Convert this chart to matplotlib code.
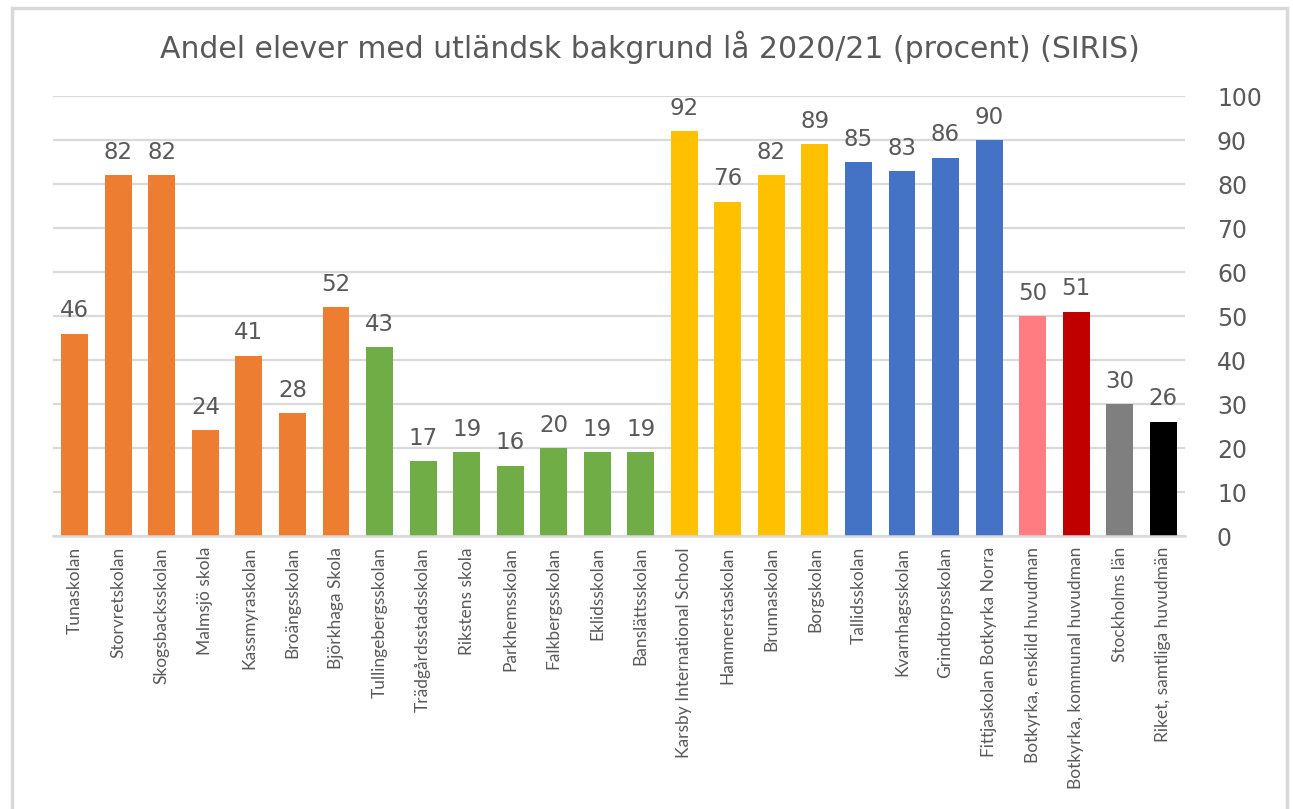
import matplotlib
matplotlib.use("Agg")
import matplotlib.pyplot as plt
from matplotlib.patches import Rectangle

categories = ["Tunaskolan", "Storvretskolan", "Skogsbacksskolan", "Malmsjö skola",
              "Kassmyraskolan", "Broängsskolan", "Björkhaga Skola", "Tullingebergsskolan",
              "Trädgårdsstadsskolan", "Rikstens skola", "Parkhemsskolan", "Falkbergsskolan",
              "Eklidsskolan", "Banslättsskolan", "Karsby International School", "Hammerstaskolan",
              "Brunnaskolan", "Borgskolan", "Tallidsskolan", "Kvarnhagsskolan",
              "Grindtorpsskolan", "Fittjaskolan Botkyrka Norra", "Botkyrka, enskild huvudman",
              "Botkyrka, kommunal huvudman", "Stockholms län", "Riket, samtliga huvudmän"]
values = [46, 82, 82, 24, 41, 28, 52, 43, 17, 19, 16, 20, 19, 19,
          92, 76, 82, 89, 85, 83, 86, 90, 50, 51, 30, 26]
bar_colors = (["#ED7D31"] * 7 + ["#70AD47"] * 7 + ["#FFC000"] * 4 + ["#4472C4"] * 4
              + ["#FF7C80", "#C00000", "#7F7F7F", "#000000"])
yticks = [0, 10, 20, 30, 40, 50, 60, 70, 80, 90, 100]
title = "Andel elever med utländsk bakgrund lå 2020/21 (procent) (SIRIS)"

TXT = "#595959"
GRID = "#D9D9D9"

fig = plt.figure(figsize=(12.93, 8.09), dpi=100)
fig.patch.set_facecolor("white")
ax = fig.add_axes([53 / 1293, (809 - 536) / 809, (1185 - 53) / 1293, (536 - 96) / 809])

x = list(range(len(categories)))
bars = ax.bar(x, values, width=0.62, color=bar_colors, zorder=3)
ax.set_xlim(-0.5, len(categories) - 0.5)
ax.set_ylim(0, 100)

for xi, v in zip(x, values):
    ax.annotate(str(v), (xi, v), xytext=(0, 8), textcoords="offset points",
                ha="center", va="bottom", fontsize=16.5, color=TXT, family="DejaVu Sans")

ax.yaxis.tick_right()
ax.set_yticks(yticks)
ax.set_yticklabels([str(t) for t in yticks], fontsize=17, color=TXT, family="DejaVu Sans")
ax.tick_params(axis="y", length=0, pad=23)
ax.grid(axis="y", color=GRID, linewidth=1.6, zorder=0)

ax.set_xticks(x)
ax.set_xticklabels(categories, rotation=90, fontsize=12.5, color=TXT, family="Lato",
                   ha="center", va="top")
ax.tick_params(axis="x", length=0, pad=8)

for s in ["top", "left", "right"]:
    ax.spines[s].set_visible(False)
ax.spines["bottom"].set_color(GRID)
ax.spines["bottom"].set_linewidth(1.8)
ax.spines["bottom"].set_zorder(4)

fig.text(650 / 1293, 1 - 47 / 809, title, ha="center", va="center",
         fontsize=21.5, color=TXT, family="DejaVu Sans")

fig.patches.append(Rectangle((12 / 1293, -0.05), (1287 - 12) / 1293, 1.05 - 8 / 809,
                             transform=fig.transFigure, fill=False,
                             edgecolor=GRID, linewidth=2.5))

fig.savefig("out.png", dpi=100, facecolor="white")
